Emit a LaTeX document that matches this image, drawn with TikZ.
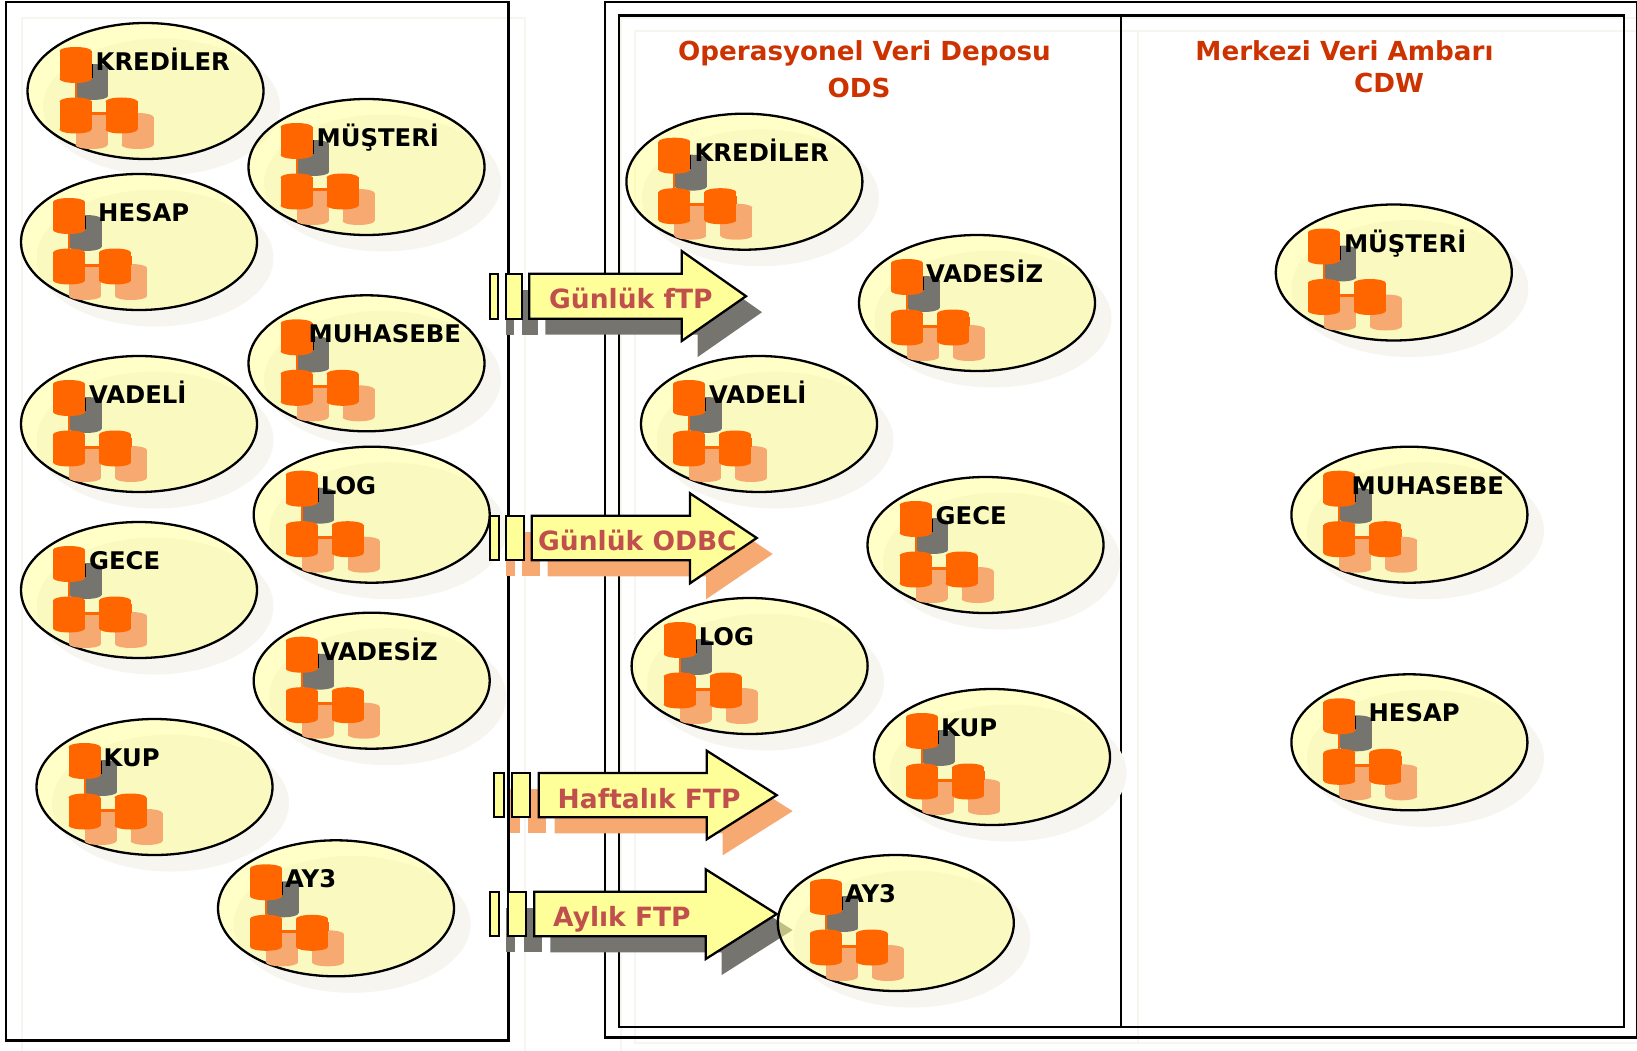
\documentclass[tikz,border=0pt]{standalone}
\usepackage{fontspec}
\setmainfont{DejaVu Sans}
\usetikzlibrary{shapes.geometric}

\definecolor{framelight}{HTML}{F6F5F0}
\definecolor{ellfill}{HTML}{FFFF99}
\definecolor{drumorange}{HTML}{FF6600}
\definecolor{drumpeach}{HTML}{F7A972}
\definecolor{drumgray}{HTML}{75746E}
\definecolor{flowtext}{HTML}{C0504D}
\definecolor{titletext}{HTML}{CC3300}

\tikzset{
	frame/.style={draw=black,line width=2.3pt},
	frameshade/.style={draw=framelight,line width=2pt},
	srcell/.style={ellipse,draw=black,line width=2.3pt,fill=ellfill,fill opacity=0.55,minimum width=236pt,minimum height=136pt,inner sep=0pt},
	srcshade/.style={ellipse,fill=framelight,minimum width=237pt,minimum height=137pt,inner sep=0pt},
	srclabel/.style={font=\fontsize{24.3}{24.3}\selectfont\bfseries,anchor=base west,inner sep=0pt,text=black},
	flowlabel/.style={font=\fontsize{26.5}{26.5}\selectfont\bfseries,anchor=base west,inner sep=0pt,text=flowtext},
	titlelabel/.style={font=\fontsize{26.2}{26.2}\selectfont\bfseries,anchor=base,inner sep=0pt,text=titletext},
	flowface/.style={draw=black,line width=2.3pt,fill=ellfill}
}

% name, x, y, colour
\newcommand{\drumat}[4]{
	\coordinate (#1) at (#2,#3);
	\fill[#4] (#2-16,#3-14) rectangle (#2+16,#3+14);
	\fill[#4] (#2,#3-14) ellipse [x radius=16,y radius=4];
	\fill[#4] (#2,#3+14) ellipse [x radius=16,y radius=4];
}

% name, x, y, label, label shift
\newcommand{\srcunit}[5]{
	\node[srcshade] at (#2+16,#3+16) (#1s) {};
	\node[srcell] at (#2,#3) (#1) {};
	\drumat{#1g}{#2-53.5}{#3-9}{drumgray}
	\drumat{#1p}{#2-54}{#3+40}{drumpeach}
	\drumat{#1q}{#2-8}{#3+40}{drumpeach}
	\coordinate (#1a) at (#2-70,#3-26);
	\coordinate (#1b) at (#2-70,#3+24);
	\coordinate (#1c) at (#2-24,#3+24);
	\draw[black,line width=1pt] (#1a) -| ([yshift=4pt]#1g);
	\draw[drumorange,line width=2pt] (#1a) -- (#1b);
	\draw[drumorange,line width=3pt] ([yshift=1pt]#1b) -- ([yshift=1pt]#1c);
	\draw[drumorange,line width=1pt] ([yshift=2pt]#1c) -| ([yshift=26pt]#1q);
	\drumat{#1a}{#2-70}{#3-26}{drumorange}
	\drumat{#1b}{#2-70}{#3+24.5}{drumorange}
	\drumat{#1c}{#2-24}{#3+24.5}{drumorange}
	\node[srclabel] at (#2+#5,#3-20.5) (#1t) {#4};
}

% bars a-b and c-d, body from e, head at f, tip at g, y h-i, head y j-k
\newcommand{\flowshape}[1]{
	\path[#1] (\a,\h) rectangle (\b,\i);
	\path[#1] (\c,\h) rectangle (\d,\i);
	\path[#1] (\e,\h) -- (\f,\h) -- (\f,\j) -- (\g,{(\h+\i)/2}) -- (\f,\k) -- (\f,\i) -- (\e,\i) -- cycle;
}

\begin{document}
\begin{tikzpicture}[x=1pt,y=-1pt]
	\useasboundingbox (0,0) rectangle (1637,1051);
	
	\draw[frameshade] (22,18) rectangle (525,1060);
	\draw[frameshade] (621,18) rectangle (1652,1053);
	\draw[frameshade] (635,31) rectangle (1640,1043);
	\draw[frameshade] (1138,31) -- (1138,1043);
	
	\draw[frame] (6,2) rectangle (508.5,1040.5);
	\draw[frame] (605,2) rectangle (1637.3,1037.5);
	\draw[frame] (619,15.5) rectangle (1624,1027);
	\draw[frame] (1121,15.5) -- (1121,1027);
	
	\node[titlelabel] (odstitle) at (864.5,60.5) {Operasyonel Veri Deposu};
	\node[titlelabel] (odsname) at (859,98) {ODS};
	\node[titlelabel] (cdwtitle) at (1344.5,60.5) {Merkezi Veri Ambarı};
	\node[titlelabel] (cdwname) at (1389,93) {CDW};
	
	\foreach \a/\b/\c/\d/\e/\f/\g/\h/\i/\j/\k/\col in {
		490/498.3/505.7/522/529.3/681.7/746/273.7/318.7/251/341/drumgray,
		490/498.7/506.3/523.7/531.7/690/756.7/515.7/560.3/493.3/583.3/drumpeach,
		494/503.7/512/530/538.7/706.7/776.7/773/817.3/750.7/839.3/drumpeach,
		490/499/507.7/525.7/534.3/705.7/776.7/891.7/936.3/869.3/959/drumgray}
	{
		\begin{scope}[shift={(16,16)}]
			\flowshape{fill=\col}
		\end{scope}
	}
	
	\srcunit{lkredi}{145.5}{91}{KREDİLER}{-50}
	\srcunit{lmuster}{366.5}{167}{MÜŞTERİ}{-50}
	\srcunit{lhesap}{139}{242}{HESAP}{-41}
	\srcunit{lmuhas}{366.5}{363.3}{MUHASEBE}{-58}
	\srcunit{lvadeli}{139}{424}{VADELİ}{-50}
	\srcunit{llog}{371.7}{514.7}{LOG}{-51}
	\srcunit{lgece}{139}{590}{GECE}{-50}
	\srcunit{lvadesiz}{371.7}{680.7}{VADESİZ}{-51}
	\srcunit{lkup}{154.5}{787}{KUP}{-51}
	\srcunit{lay}{336}{908.3}{AY3}{-51}
	
	\srcunit{mkredi}{744.4}{181.7}{KREDİLER}{-50}
	\srcunit{mvadesiz}{977}{303}{VADESİZ}{-51}
	\srcunit{mvadeli}{759}{424}{VADELİ}{-50}
	\srcunit{mgece}{985.5}{545}{GECE}{-50}
	\srcunit{mlog}{749.6}{666}{LOG}{-51}
	\srcunit{mkup}{992}{757}{KUP}{-51}
	\srcunit{may}{895.8}{923}{AY3}{-51}
	
	\srcunit{rmuster}{1393.8}{272.5}{MÜŞTERİ}{-50}
	\srcunit{rmuhas}{1409.4}{514.7}{MUHASEBE}{-58}
	\srcunit{rhesap}{1409.4}{742.3}{HESAP}{-41}
	
	\foreach \a/\b/\c/\d/\e/\f/\g/\h/\i/\j/\k in {
		490/498.3/505.7/522/529.3/681.7/746/273.7/318.7/251/341,
		490/498.7/506.3/523.7/531.7/690/756.7/515.7/560.3/493.3/583.3,
		494/503.7/512/530/538.7/706.7/776.7/773/817.3/750.7/839.3,
		490/499/507.7/525.7/534.3/705.7/776.7/891.7/936.3/869.3/959}
	{
		\flowshape{flowface}
	}
	
	\node[flowlabel] (ftpday) at (549,308) {Günlük fTP};
	\node[flowlabel] (odbcday) at (538,550) {Günlük ODBC};
	\node[flowlabel] (ftpweek) at (557.5,808) {Haftalık FTP};
	\node[flowlabel] (ftpmonth) at (553,926.5) {Aylık FTP};
\end{tikzpicture}
\end{document}
